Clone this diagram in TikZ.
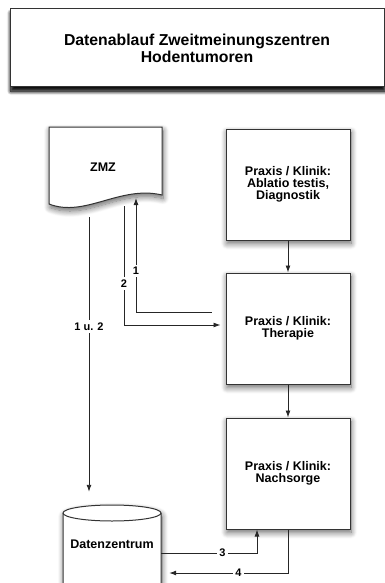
\documentclass[tikz,border=0pt]{standalone}
\usepackage{fontspec}
\setmainfont{Liberation Sans}
\usetikzlibrary{positioning,calc,arrows.meta,shadows.blur}

\tikzset{
  soft/.style={blur shadow={shadow xshift=1pt, shadow yshift=-3.5pt, shadow blur radius=6pt, shadow blur steps=10, shadow opacity=60}},
  box/.style={draw=black!80, line width=1pt, fill=white, soft, minimum width=124pt, minimum height=111pt, align=center, font=\fontsize{12.5}{11.8}\selectfont\bfseries},
  line/.style={draw=black!85, line width=0.9pt},
  flow/.style={line, -{Latex[length=7pt,width=5pt]}},
  lbl/.style={fill=white, inner sep=2.5pt, font=\fontsize{11}{11}\selectfont\bfseries},
}

\begin{document}
\begin{tikzpicture}[x=1pt, y=-1pt]
  \useasboundingbox (0,0) rectangle (385,583);

  % Titel
  \node[name=title, box, minimum width=374pt, minimum height=78pt, font=\fontsize{15.8}{17}\selectfont\bfseries,
        blur shadow={shadow xshift=1pt, shadow yshift=-4pt, shadow blur radius=4pt, shadow blur steps=8, shadow opacity=80}] at (197,48) {Datenablauf Zweitmeinungszentren\\Hodentumoren};

  % ZMZ (Dokument)
  \draw[line, draw=black!80, line width=1pt, fill=white, soft] (49,127) -- (162,127) -- (162,195) .. controls (120,185) and (85,218) .. (49,204) -- cycle;
  \node[name=zmz, minimum width=113pt, minimum height=77pt, font=\fontsize{12.5}{11.8}\selectfont\bfseries] at (103,167) {ZMZ};
  \coordinate (w12) at (89,217);
  \coordinate (w2) at (124,206);
  \coordinate (w1) at (136,198);

  % Praxis / Klinik
  \node[name=b1, box] at (288,184.5) {Praxis / Klinik:\\Ablatio testis,\\Diagnostik};
  \node[name=b2, box, below=32pt of b1] {Praxis / Klinik:\\Therapie};
  \node[name=b3, box, below=33pt of b2] {Praxis / Klinik:\\Nachsorge};

  % Datenzentrum (Zylinder)
  \draw[line, draw=black!80, line width=1pt, fill=white, soft] (63,513) -- (63,592) arc[start angle=180, end angle=360, x radius=49pt, y radius=8pt] -- (161,513) arc[start angle=0, end angle=180, x radius=49pt, y radius=8pt] -- cycle;
  \draw[line, draw=black!80, line width=1pt] (63,513) arc[start angle=180, end angle=360, x radius=49pt, y radius=8pt];
  \node[name=dz, minimum width=98pt, minimum height=78pt, font=\fontsize{12.5}{11.8}\selectfont\bfseries] at (112,544) {Datenzentrum};

  % Verbindungen
  \draw[flow] (b1) -- (b2);
  \draw[flow] (b2) -- (b3);
  \draw[flow, shorten >=13pt] (w12) -- node[lbl, pos=0.38] {1 u. 2} (w12 |- dz.north);
  \draw[flow, shorten >=5pt] (w2) |- node[lbl, pos=0.325] {2} ($(b2.west)+(0,3.5pt)$);
  \draw[flow] ($(b2.west)+(-14pt,16.5pt)$) -| node[lbl, pos=0.68] {1} (w1);
  \draw[flow] ($(dz.east)+(0,-9pt)$) -| node[lbl, pos=0.32] {3} ($(b3.south)+(-31pt,0)$);
  \draw[flow, shorten >=8pt] (b3.south) |- node[lbl, pos=0.695] {4} ($(dz.east)+(0,-29pt)$);
\end{tikzpicture}
\end{document}
